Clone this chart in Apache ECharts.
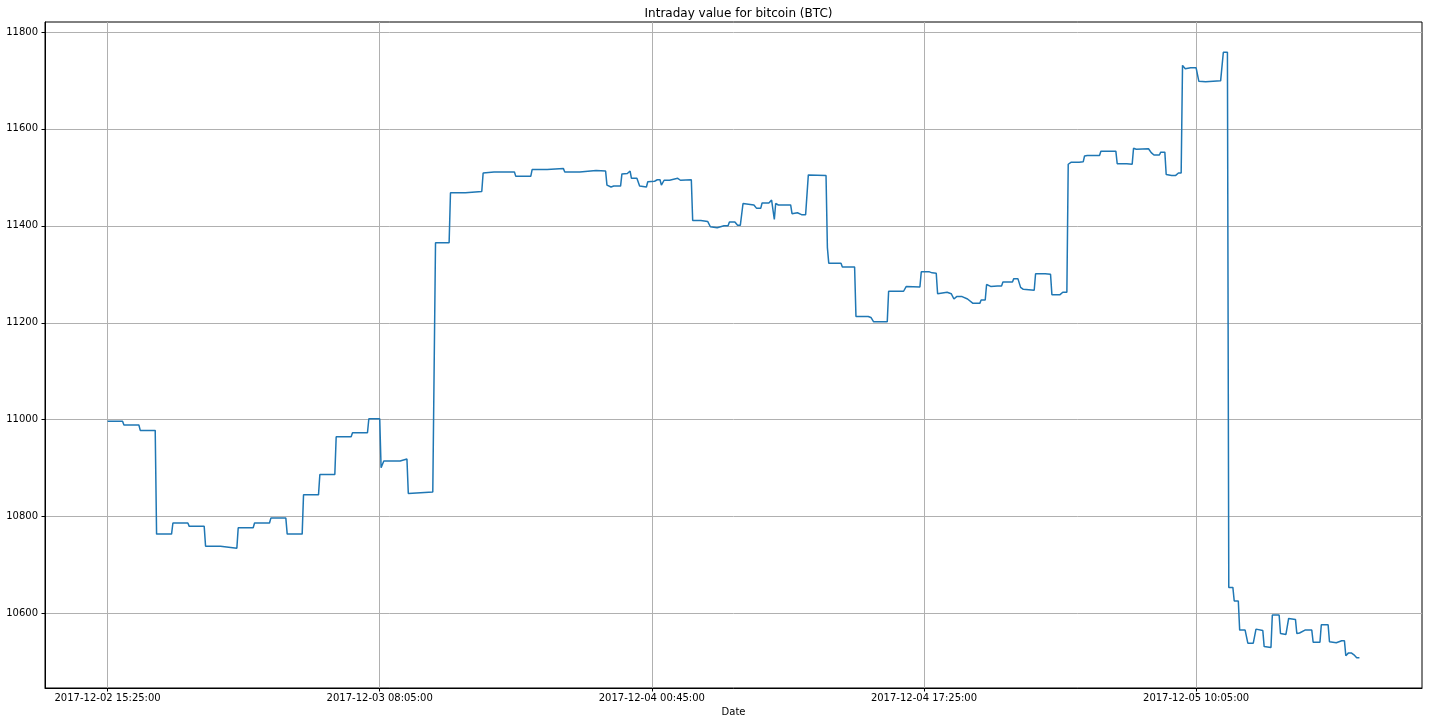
<!DOCTYPE html>
<html>
<head>
<meta charset="utf-8">
<script src="https://cdn.jsdelivr.net/npm/echarts@6/dist/echarts.min.js"></script>
<style>html,body{margin:0;padding:0;background:#fff;}#c{width:1432px;height:725px;}</style>
</head>
<body>
<div id="c"></div>
<script>
// minutes since 2017-12-02 15:25:00
const minutes = [0,55,60,115,120,175,180,235,240,295,300,355,360,415,420,475,480,535,540,595,600,655,660,715,720,775,780,835,840,895,900,955,960,1000,1005,1015,1075,1080,1100,1105,1135,1195,1200,1205,1255,1260,1315,1320,1375,1380,1420,1495,1500,1555,1560,1615,1620,1675,1680,1735,1740,1795,1800,1830,1835,1850,1860,1885,1890,1910,1920,1925,1945,1955,1980,1985,2010,2020,2030,2035,2045,2065,2095,2105,2145,2150,2180,2205,2210,2215,2240,2265,2280,2285,2305,2315,2325,2335,2375,2385,2400,2405,2430,2440,2445,2450,2455,2465,2510,2515,2535,2550,2565,2575,2640,2645,2650,2695,2700,2745,2750,2795,2805,2815,2865,2870,2925,2935,2985,2990,3020,3030,3045,3050,3055,3085,3100,3110,3120,3140,3160,3180,3205,3210,3225,3230,3245,3270,3285,3290,3325,3330,3345,3355,3365,3405,3410,3445,3465,3470,3500,3510,3525,3530,3540,3570,3575,3585,3590,3600,3645,3650,3705,3710,3745,3765,3770,3780,3825,3835,3845,3865,3870,3885,3890,3910,3925,3935,3945,3950,3960,3980,4000,4010,4035,4090,4100,4115,4120,4135,4140,4155,4160,4180,4190,4210,4220,4225,4245,4250,4275,4280,4305,4310,4330,4340,4365,4370,4380,4400,4425,4430,4455,4460,4485,4490,4515,4535,4545,4550,4560,4570,4580,4590,4600];
const values = [10997,10997,10989,10989,10978,10978,10764,10764,10787,10787,10780,10780,10739,10739,10735,10735,10777,10777,10787,10787,10797,10797,10764,10764,10845,10845,10887,10887,10965,10965,10973,10973,11002,11002,10901,10915,10915,10919,10919,10848,10849,10851,10851,11365,11365,11468,11468,11471,11471,11509,11511,11511,11502,11502,11516,11516,11518,11518,11511,11511,11514,11514,11513,11513,11484,11480,11482,11482,11507,11508,11513,11498,11498,11482,11480,11491,11492,11495,11495,11484,11494,11494,11498,11494,11495,11411,11411,11409,11409,11398,11396,11400,11400,11408,11408,11401,11401,11446,11443,11436,11436,11447,11447,11453,11450,11413,11446,11443,11443,11425,11427,11423,11423,11505,11504,11355,11323,11323,11315,11315,11213,11213,11211,11202,11202,11265,11265,11275,11274,11305,11305,11303,11302,11260,11263,11263,11260,11249,11254,11254,11249,11240,11240,11247,11247,11279,11275,11276,11276,11284,11284,11291,11291,11273,11269,11267,11301,11301,11300,11258,11258,11263,11263,11527,11531,11531,11532,11532,11544,11545,11545,11554,11554,11528,11528,11527,11560,11558,11559,11551,11546,11546,11552,11552,11506,11504,11504,11509,11509,11731,11724,11726,11726,11698,11697,11699,11758,11758,10654,10654,10626,10626,10566,10566,10539,10539,10568,10565,10565,10532,10530,10597,10597,10559,10557,10590,10588,10559,10560,10566,10566,10541,10541,10577,10577,10542,10540,10544,10544,10513,10519,10519,10515,10509,10509];
const xTickValues = [0,1000,2000,3000,4000];
const xTickLabels = ['2017-12-02 15:25:00','2017-12-03 08:05:00','2017-12-04 00:45:00','2017-12-04 17:25:00','2017-12-05 10:05:00'];
const yTickValues = [10600,10800,11000,11200,11400,11600,11800];

const xMinD = Math.min(...minutes), xMaxD = Math.max(...minutes);
const yMinD = Math.min(...values), yMaxD = Math.max(...values);
const xm = (xMaxD - xMinD) * 0.05, ym = (yMaxD - yMinD) * 0.05;

const chart = echarts.init(document.getElementById('c'), null, {renderer: 'canvas'});
const font = 'DejaVu Sans';
chart.setOption({
  animation: false,
  backgroundColor: '#fff',
  title: {
    text: 'Intraday value for bitcoin (BTC)',
    left: 733.5, top: 3, textAlign: 'center',
    textStyle: {fontFamily: font, fontSize: 12, fontWeight: 'normal', color: '#000'}
  },
  grid: {left: 45, right: 10, top: 22, bottom: 37, show: true, borderColor: '#000', borderWidth: 1, containLabel: false},
  xAxis: {
    type: 'value', min: xMinD - xm, max: xMaxD + xm,
    name: 'Date', nameLocation: 'middle', nameGap: 19,
    nameTextStyle: {fontFamily: font, fontSize: 10, color: '#000'},
    axisLine: {show: true, onZero: false, lineStyle: {color: '#000', width: 1}},
    axisTick: {show: true, inside: false, length: 3.5, customValues: xTickValues, lineStyle: {color: '#000'}},
    axisLabel: {customValues: xTickValues, margin: 5, fontFamily: font, fontSize: 10, color: '#000',
      formatter: v => { const i = xTickValues.indexOf(v); return i >= 0 ? xTickLabels[i] : ''; }},
    splitLine: {show: true, lineStyle: {color: '#b0b0b0', width: 1}}
  },
  yAxis: {
    type: 'value', min: yMinD - ym, max: yMaxD + ym,
    axisLine: {show: true, onZero: false, lineStyle: {color: '#000', width: 1}},
    axisTick: {show: true, inside: false, length: 3.5, customValues: yTickValues, lineStyle: {color: '#000'}},
    axisLabel: {customValues: yTickValues, margin: 7, fontFamily: font, fontSize: 10, color: '#000',
      formatter: v => String(v)},
    splitLine: {show: true, lineStyle: {color: '#b0b0b0', width: 1}}
  },
  series: [{
    type: 'line', showSymbol: false, symbol: 'none',
    data: minutes.map((m, i) => [m, values[i]]),
    lineStyle: {color: '#1f77b4', width: 1.5}, itemStyle: {color: '#1f77b4'}
  }]
});
</script>
</body>
</html>
